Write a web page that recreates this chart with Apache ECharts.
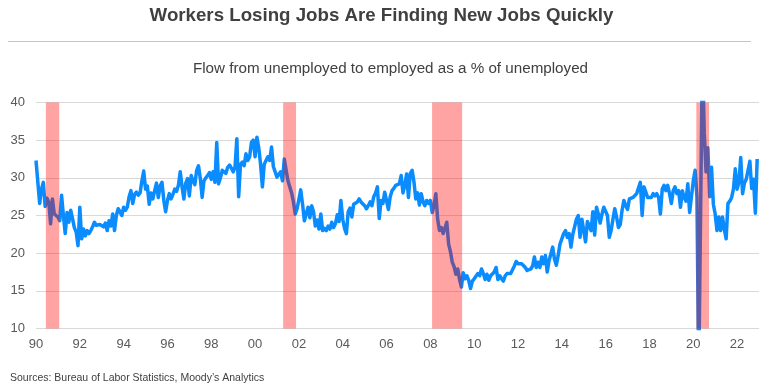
<!DOCTYPE html>
<html>
<head>
<meta charset="utf-8">
<title>Workers Losing Jobs Are Finding New Jobs Quickly</title>
<script src="https://cdn.jsdelivr.net/npm/echarts/dist/echarts.min.js"></script>
<style>
  html, body { margin: 0; padding: 0; background: #ffffff; }
  #chart { width: 759px; height: 387px; }
</style>
</head>
<body>
<div id="chart"></div>
<script>
// Monthly flow from unemployment to employment, % of unemployed (Jan 1990 onward)
const startYear = 1990;

const flow1990s = [
  32.3, 32.3, 26.6, 28.5, 29.4, 26.2, 27.3, 26.8, 23.9, 27.2, 25.2, 25.0, // 1990
  24.8, 24.3, 27.7, 25.0, 22.6, 25.4, 24.1, 25.7, 24.6, 23.4, 22.8, 21.0, // 1991
  26.1, 21.9, 23.2, 22.3, 23.0, 22.6, 23.0, 23.5, 24.1, 23.7, 23.5, 23.8, // 1992
  24.0, 23.5, 24.0, 23.0, 24.3, 23.6, 25.2, 23.0, 25.0, 25.9, 25.5, 25.0, // 1993
  26.1, 25.7, 26.1, 27.5, 28.3, 26.6, 27.8, 28.1, 27.7, 28.0, 29.6, 30.9, // 1994
  28.5, 28.9, 26.5, 28.0, 27.2, 28.3, 29.3, 27.4, 28.9, 29.4, 27.0, 25.5, // 1995
  27.0, 27.9, 27.2, 27.8, 28.5, 28.2, 29.0, 30.8, 28.8, 27.2, 29.3, 29.9, // 1996
  27.6, 30.3, 29.6, 29.1, 31.0, 31.6, 29.9, 27.4, 29.6, 30.0, 30.3, 30.7, // 1997
  29.8, 30.8, 29.4, 34.7, 29.2, 30.0, 31.0, 30.9, 30.6, 31.4, 31.7, 31.3, // 1998
  30.8, 31.4, 35.2, 27.5, 31.8, 32.1, 31.6, 33.2, 32.3, 32.8, 34.7, 35.0  // 1999
];

const flow2000s = [
  32.8, 35.4, 34.0, 31.8, 28.8, 31.8, 31.6, 32.8, 32.3, 34.1, 31.5, 30.8, // 2000
  30.1, 29.9, 30.8, 29.6, 32.5, 31.0, 29.6, 28.8, 28.0, 26.8, 25.2, 25.9, // 2001
  25.8, 28.4, 26.5, 24.3, 24.4, 26.1, 24.7, 26.3, 25.5, 23.6, 24.4, 23.2, // 2002
  25.2, 23.0, 23.3, 23.0, 23.6, 23.2, 24.1, 23.4, 23.9, 25.1, 24.2, 27.0, // 2003
  24.5, 23.3, 22.6, 25.5, 26.0, 24.8, 26.5, 26.3, 26.8, 27.2, 26.8, 27.0, // 2004
  26.3, 25.9, 26.3, 26.8, 26.3, 27.5, 28.0, 28.8, 24.6, 27.0, 26.6, 28.1, // 2005
  28.2, 25.8, 27.5, 28.3, 28.6, 29.0, 28.8, 29.2, 30.3, 28.0, 29.0, 30.5, // 2006
  27.4, 30.6, 31.0, 29.5, 27.2, 28.0, 26.4, 27.9, 26.8, 26.3, 27.0, 26.6, // 2007
  27.0, 25.4, 26.3, 27.9, 24.5, 23.0, 23.4, 22.6, 22.8, 24.1, 21.2, 20.2, // 2008
  18.8, 18.2, 17.2, 17.9, 16.5, 15.5, 17.4, 16.6, 17.0, 16.4, 15.3, 16.3  // 2009
];

const flow2010s = [
  16.6, 16.4, 17.3, 17.0, 17.9, 17.3, 16.5, 17.2, 16.4, 17.0, 17.0, 17.5, // 2010
  18.1, 16.5, 17.0, 16.6, 16.3, 17.0, 17.3, 17.1, 17.3, 17.5, 18.3, 18.9, // 2011
  18.6, 18.5, 18.6, 18.4, 18.1, 17.7, 17.9, 17.9, 18.3, 19.5, 18.1, 18.8, // 2012
  18.1, 19.5, 18.6, 19.7, 17.5, 19.0, 19.2, 20.8, 19.2, 18.4, 19.7, 21.2, // 2013
  21.9, 22.6, 23.0, 22.1, 22.6, 20.8, 22.5, 22.6, 24.5, 25.0, 22.1, 24.5, // 2014
  24.4, 21.5, 24.2, 24.2, 23.0, 25.5, 22.4, 26.1, 25.2, 24.0, 25.2, 26.1, // 2015
  26.3, 25.0, 22.1, 23.0, 24.5, 25.9, 24.8, 23.4, 23.8, 25.7, 27.0, 26.3, // 2016
  25.8, 27.2, 27.0, 27.4, 27.2, 27.9, 27.9, 29.4, 25.0, 28.8, 28.8, 27.4, // 2017
  27.6, 27.4, 27.9, 27.6, 27.9, 27.4, 25.2, 28.5, 29.0, 28.3, 29.0, 27.9, // 2018
  26.6, 28.3, 28.8, 27.9, 28.3, 26.1, 28.3, 27.4, 26.9, 29.2, 25.4, 27.5  // 2019
];

const flow2020s = [
  29.6, 31.0, 27.5,  4.0, 25.0, 47.0, 36.0, 30.8, 34.0, 27.5, 31.4, 26.5, // 2020
  25.2, 23.0, 24.8, 23.0, 24.8, 23.2, 21.9, 26.6, 26.9, 27.4, 28.5, 31.2, // 2021
  28.5, 29.4, 32.7, 27.9, 29.3, 29.8, 31.0, 32.2, 28.6, 29.8, 25.3, 32.5  // 2022
];

// Recession periods, in fractional years
const recessions = [
  [1990.45, 1991.06],
  [2001.28, 2001.87],
  [2008.08, 2009.45],
  [2020.14, 2020.72]
];

const titleText = 'Workers Losing Jobs Are Finding New Jobs Quickly';
const subtitleText = 'Flow from unemployed to employed as a % of unemployed';
const sourceText = 'Sources: Bureau of Labor Statistics, Moody\u2019s Analytics';

const FONT = '"Liberation Sans", Arial, Helvetica, sans-serif';

const monthly = [].concat(flow1990s, flow2000s, flow2010s, flow2020s);
const points = monthly.map((v, i) => [startYear + i / 12, v]);

const chart = echarts.init(document.getElementById('chart'), null, { renderer: 'canvas' });

chart.setOption({
  animation: false,
  backgroundColor: '#ffffff',
  textStyle: { fontFamily: FONT },
  grid: { left: 36, right: 0, top: 102.5, bottom: 58.5 },
  xAxis: {
    type: 'value',
    min: 1990,
    max: 2023,
    interval: 2,
    axisLine: { show: false },
    axisTick: { show: false },
    splitLine: { show: false },
    axisLabel: {
      color: '#595959',
      fontSize: 13,
      fontFamily: FONT,
      margin: 9,
      showMaxLabel: false,
      formatter: v => String(Math.round(v) % 100).padStart(2, '0')
    }
  },
  yAxis: {
    type: 'value',
    min: 10,
    max: 40,
    interval: 5,
    axisLine: { show: false },
    axisTick: { show: false },
    splitLine: { lineStyle: { color: '#d9d9d9', width: 1 } },
    axisLabel: { color: '#595959', fontSize: 13, fontFamily: FONT, margin: 11 }
  },
  series: [{
    type: 'line',
    data: points,
    symbol: 'none',
    showSymbol: false,
    clip: true,
    z: 2,
    lineStyle: { color: '#0a8cff', width: 3.5, join: 'round' },
    emphasis: { disabled: true },
    markArea: {
      silent: true,
      z: 5,
      itemStyle: { color: 'rgba(255, 0, 0, 0.36)' },
      data: recessions.map(r => [{ xAxis: r[0] }, { xAxis: r[1] }])
    }
  }],
  graphic: [
    {
      type: 'text', x: 381.5, y: 16, silent: true,
      style: {
        text: titleText, fill: '#404040',
        font: 'bold 18.7px ' + FONT,
        align: 'center', verticalAlign: 'middle',
        textAlign: 'center', textVerticalAlign: 'middle'
      }
    },
    {
      type: 'line', silent: true,
      shape: { x1: 8, y1: 41.5, x2: 751, y2: 41.5 },
      style: { stroke: '#c6c6c6', lineWidth: 1.2 }
    },
    {
      type: 'text', x: 390.5, y: 69, silent: true,
      style: {
        text: subtitleText, fill: '#404040',
        font: '15.2px ' + FONT,
        align: 'center', verticalAlign: 'middle',
        textAlign: 'center', textVerticalAlign: 'middle'
      }
    },
    {
      type: 'text', x: 10, y: 378, silent: true,
      style: {
        text: sourceText, fill: '#404040',
        font: '10.5px ' + FONT,
        align: 'left', verticalAlign: 'middle',
        textAlign: 'left', textVerticalAlign: 'middle'
      }
    }
  ]
});
</script>
</body>
</html>
